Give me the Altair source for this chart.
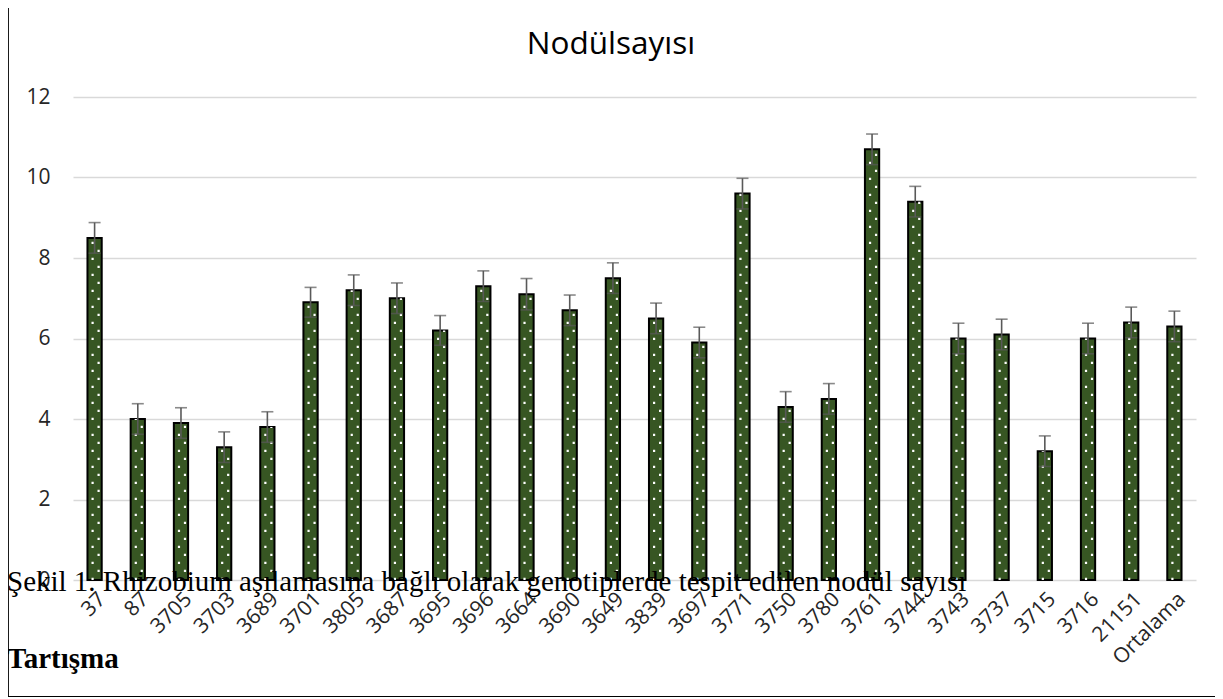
import altair as alt
import pandas as pd

genotypes = ["37", "87", "3705", "3703", "3689", "3701", "3805", "3687", "3695", "3696",
             "3664", "3690", "3649", "3839", "3697", "3771", "3750", "3780", "3761", "3744",
             "3743", "3737", "3715", "3716", "21151", "Ortalama"]
values = [8.5, 4.0, 3.9, 3.3, 3.8, 6.9, 7.2, 7.0, 6.2, 7.3,
          7.1, 6.7, 7.5, 6.5, 5.9, 9.6, 4.3, 4.5, 10.7, 9.4,
          6.0, 6.1, 3.2, 6.0, 6.4, 6.3]
errors = [0.38, 0.38, 0.38, 0.38, 0.38, 0.37, 0.38, 0.38, 0.37, 0.38,
          0.39, 0.38, 0.38, 0.38, 0.38, 0.38, 0.38, 0.38, 0.38, 0.38,
          0.38, 0.38, 0.38, 0.38, 0.38, 0.38]
y_ticks = [0, 2, 4, 6, 8, 10, 12]
title_text = "Nodülsayısı"
caption_text = "Şekil 1. Rhizobium aşılamasına bağlı olarak genotiplerde tespit edilen nodül sayısı"
heading_text = "Tartışma"

df = pd.DataFrame({"genotip": genotypes, "nodul": values, "err": errors})
df["lo"] = df["nodul"] - df["err"]
df["hi"] = df["nodul"] + df["err"]
df["zero"] = 0.0

W, H = 1123, 483
TXT = "#262626"

x_enc = alt.X("genotip:N", sort=genotypes,
              scale=alt.Scale(paddingInner=0.67, paddingOuter=0.335),
              axis=alt.Axis(title=None, labelAngle=315, labelFontSize=21, labelFont="Open Sans",
                            labelColor=TXT, labelPadding=8, ticks=False, tickSize=0, domain=False,
                            labelAlign="right", labelBaseline="top", grid=False))
y_scale = alt.Scale(domain=[0, 12], nice=False)
y_axis = alt.Axis(values=y_ticks, title=None, grid=True, gridColor="#D9D9D9", gridWidth=1.3,
                  domain=False, ticks=False, tickSize=0, labelFontSize=21, labelFont="Open Sans",
                  labelColor=TXT, labelPadding=23)

base = alt.Chart(df)

bars = base.mark_bar(fill="#375623", stroke="black", strokeWidth=2).encode(
    x=x_enc, y=alt.Y("nodul:Q", scale=y_scale, axis=y_axis))

dots1 = base.mark_rule(color="white", strokeWidth=2.2, strokeDash=[2.2, 13.8], strokeCap="butt",
                       xOffset=-2).encode(
    x=alt.X("genotip:N", sort=genotypes), y=alt.Y("zero:Q"), y2="nodul:Q")
dots2 = base.mark_rule(color="white", strokeWidth=2.2, strokeDash=[2.2, 13.8], strokeCap="butt",
                       strokeDashOffset=8, xOffset=4).encode(
    x=alt.X("genotip:N", sort=genotypes), y=alt.Y("zero:Q"), y2="nodul:Q")

err_rule = base.mark_rule(color="#595959", strokeWidth=1.6).encode(
    x=alt.X("genotip:N", sort=genotypes), y=alt.Y("lo:Q"), y2="hi:Q")
cap_hi = base.mark_tick(color="#595959", size=12, thickness=1.6, orient="horizontal").encode(
    x=alt.X("genotip:N", sort=genotypes), y=alt.Y("hi:Q"))
cap_lo = base.mark_tick(color="#595959", size=12, thickness=1.6, orient="horizontal").encode(
    x=alt.X("genotip:N", sort=genotypes), y=alt.Y("lo:Q"))

one = pd.DataFrame({"a": [0]})
title = alt.Chart(pd.DataFrame({"t": [title_text]})).mark_text(
    font="Open Sans", fontSize=31.5, color="black", align="center", baseline="alphabetic").encode(
    text="t:N", x=alt.value(538), y=alt.value(-43))
caption = alt.Chart(pd.DataFrame({"t": [caption_text]})).mark_text(
    font="Liberation Serif", fontSize=29, color="black", align="left", baseline="alphabetic").encode(
    text="t:N", x=alt.value(-66), y=alt.value(494))
heading = alt.Chart(pd.DataFrame({"t": [heading_text]})).mark_text(
    font="Liberation Serif", fontSize=29, fontWeight="bold", color="black", align="left",
    baseline="alphabetic").encode(
    text="t:N", x=alt.value(-66), y=alt.value(571))
left_line = alt.Chart(one).mark_rule(color="black", strokeWidth=1.8).encode(
    x=alt.value(-65), y=alt.value(-97), y2=alt.value(601))
bottom_line = alt.Chart(one).mark_rule(color="black", strokeWidth=1.8).encode(
    x=alt.value(-65), x2=alt.value(1150), y=alt.value(600))

chart = alt.layer(bars, dots1, dots2, err_rule, cap_hi, cap_lo, title, caption, heading,
                  left_line, bottom_line).properties(
    width=W, height=H,
    autosize=alt.AutoSizeParams(type="none"),
    padding={"left": 65, "top": 89, "right": 19, "bottom": 117},
    background="white",
).configure_view(stroke=None)

chart.save("out.html", embed_options={"renderer": "svg", "actions": False})
